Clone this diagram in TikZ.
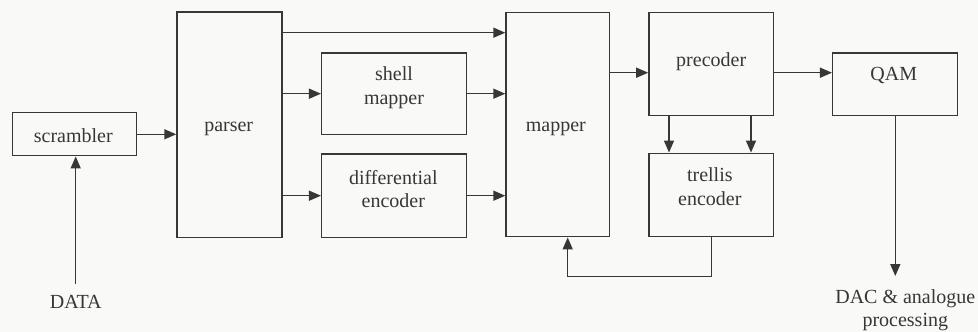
\documentclass[tikz,border=0pt]{standalone}
\usepackage{fontspec}
\setmainfont{Liberation Serif}
\newfontfamily\diagfont{Liberation Serif}
\usetikzlibrary{arrows.meta}
\definecolor{ink}{RGB}{55,55,55}
\definecolor{bg}{RGB}{249,249,247}
\begin{document}
\begin{tikzpicture}[x=1pt,y=-1pt,
  box/.style={draw=ink, line width=1.5pt, inner sep=0pt},
  txt/.style={text=ink, font=\diagfont\fontsize{20}{23.5}\selectfont, align=center, inner sep=0pt},
  arr/.style={draw=ink, line width=1.5pt, -{Triangle[length=12pt,width=10pt]}}]
\fill[bg] (0,0) rectangle (978,332);
\useasboundingbox (0,0) rectangle (978,332);
% boxes
\node[box, minimum width=124.4pt, minimum height=43pt]    (scr) at (74.5,134.2) {};
\node[box, minimum width=105pt,   minimum height=225.3pt] (par) at (229.5,124.7) {};
\node[box, minimum width=144.6pt, minimum height=81.3pt]  (sh)  at (394,93.7) {};
\node[box, minimum width=144.6pt, minimum height=83.3pt]  (dif) at (394,195.7) {};
\node[box, minimum width=103.3pt, minimum height=224pt]   (map) at (557.7,124.7) {};
\node[box, minimum width=124.7pt, minimum height=102.6pt] (pre) at (711.3,64) {};
\node[box, minimum width=124.6pt, minimum height=62.3pt]  (qam) at (895,84.2) {};
\node[box, minimum width=124.7pt, minimum height=83.4pt]  (tre) at (711.3,195) {};
% texts
\node[txt] (scrT) at (73.3,135.8) {scrambler};
\node[txt] (parT) at (228.7,129) {parser};
\node[txt] (shT)  at (394,87.5) {shell\\mapper};
\node[txt] (difT) at (393.3,189) {differential\\encoder};
\node[txt] (mapT) at (555.8,129) {mapper};
\node[txt] (preT) at (711.2,61.7) {precoder};
\node[txt] (qamT) at (893.8,75.5) {QAM};
\node[txt] (treT) at (709.8,186.7) {trellis\\encoder};
\node[txt] (data) at (75.8,302.2) {DATA};
\node[txt] (dac)  at (905.3,310) {DAC \& analogue\\processing};
% connector helper points
\coordinate (dIn) at (75.7,284);
\coordinate (c1) at (0,134.3);
\coordinate (c2) at (0,32.7);
\coordinate (c3) at (0,72.7);
\coordinate (c4) at (669,0);
\coordinate (c5) at (751,0);
\coordinate (fb) at (567.7,276.7);
\coordinate (out) at (895.3,276);
% connectors
\draw[arr] (dIn) -- (dIn |- scr.south);
\draw[arr] (c1 -| scr.east) -- (c1 -| par.west);
\draw[arr] (c2 -| par.east) -- (c2 -| map.west);
\draw[arr] (sh.west -| par.east) -- (sh.west);
\draw[arr] (dif.west -| par.east) -- (dif.west);
\draw[arr] (sh.east) -- (sh.east -| map.west);
\draw[arr] (dif.east) -- (dif.east -| map.west);
\draw[arr] (c3 -| map.east) -- (c3 -| pre.west);
\draw[arr] (c3 -| pre.east) -- (c3 -| qam.west);
\draw[arr] (c4 |- pre.south) -- (c4 |- tre.north);
\draw[arr] (c5 |- pre.south) -- (c5 |- tre.north);
\draw[arr] (tre.south) -- (tre.south |- fb) -- (fb) -- (fb |- map.south);
\draw[arr] (out |- qam.south) -- (out);
\end{tikzpicture}
\end{document}
